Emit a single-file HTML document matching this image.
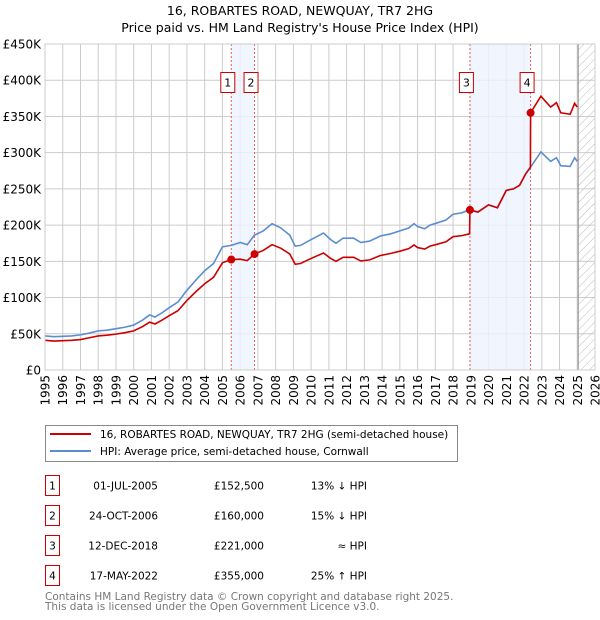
<!DOCTYPE html>
<html><head><meta charset="utf-8"><style>
body{margin:0;background:#fff;}
svg{display:block;font-family:"DejaVu Sans","Liberation Sans",sans-serif;}
</style></head><body>
<svg id="chart" width="600" height="620" viewBox="0 0 600 620" xmlns="http://www.w3.org/2000/svg">
<defs>
<pattern id="hatch" width="6" height="6" patternUnits="userSpaceOnUse" patternTransform="rotate(45)">
<line x1="0" y1="0" x2="0" y2="6" stroke="#bbb" stroke-width="1"/>
</pattern>
</defs>
<text x="300" y="15" text-anchor="middle" font-size="12.5" fill="#000">16, ROBARTES ROAD, NEWQUAY, TR7 2HG</text>
<text x="300" y="32" text-anchor="middle" font-size="12.5" fill="#000">Price paid vs. HM Land Registry's House Price Index (HPI)</text>
<g id="grid"></g>
<g id="bands"></g>
<g id="lines"></g>
<g id="marks"></g>
<g id="axes"></g>

<g>
<rect x="45.5" y="425.5" width="412" height="36" fill="#fff" stroke="#888"/>
<line x1="50" y1="434" x2="91" y2="434" stroke="#cc0000" stroke-width="2"/>
<text x="100" y="438" font-size="10.5">16, ROBARTES ROAD, NEWQUAY, TR7 2HG (semi-detached house)</text>
<line x1="50" y1="451" x2="91" y2="451" stroke="#5b8dd0" stroke-width="2"/>
<text x="100" y="455" font-size="10.5">HPI: Average price, semi-detached house, Cornwall</text>
</g>
<g id="table" font-size="10.5"></g>
<text x="45" y="600" font-size="10.5" fill="#777">Contains HM Land Registry data © Crown copyright and database right 2025.</text>
<text x="45" y="610" font-size="10.5" fill="#777">This data is licensed under the Open Government Licence v3.0.</text>
</svg>
<script>
const yTicks = [0,50,100,150,200,250,300,350,400,450];
const yTickLabels = ["£0","£50K","£100K","£150K","£200K","£250K","£300K","£350K","£400K","£450K"];
const xYears = [1995,1996,1997,1998,1999,2000,2001,2002,2003,2004,2005,2006,2007,2008,2009,2010,2011,2012,2013,2014,2015,2016,2017,2018,2019,2020,2021,2022,2023,2024,2025,2026];
const hpiDates = [1995.0,1995.5,1996.0,1996.5,1997.0,1997.5,1998.0,1998.5,1999.0,1999.5,2000.0,2000.5,2000.9,2001.2,2001.6,2002.0,2002.5,2003.0,2003.5,2004.0,2004.5,2005.0,2005.5,2006.0,2006.4,2006.8,2007.3,2007.8,2008.3,2008.8,2009.1,2009.4,2010.0,2010.7,2011.1,2011.4,2011.8,2012.4,2012.8,2013.3,2013.9,2014.5,2015.0,2015.5,2015.8,2016.0,2016.4,2016.7,2017.1,2017.6,2018.0,2018.5,2018.9,2019.4,2020.0,2020.5,2021.0,2021.4,2021.75,2022.1,2022.4,2022.95,2023.5,2023.83,2024.07,2024.6,2024.85,2025.0];
const hpiValues = [47,46,46.5,47,48.5,51,54,55,57,59,62,69,76,73,79,86,94,110,124,137,147,170,172,176,173,186,192,202,196,186,171,172,180,189,180,175,182,182,176,178,185,188,192,196,202,198,195,200,203,207,215,217,221,218,228,224,248,250,255,271,281,301,288,293,282,281,293,288];
const priceDates = [1995.0,1995.5,1996.0,1996.5,1997.0,1997.5,1998.0,1998.5,1999.0,1999.5,2000.0,2000.5,2000.9,2001.2,2001.6,2002.0,2002.5,2003.0,2003.5,2004.0,2004.5,2005.0,2005.5,2006.0,2006.4,2006.8,2007.3,2007.8,2008.3,2008.8,2009.1,2009.4,2010.0,2010.7,2011.1,2011.4,2011.8,2012.4,2012.8,2013.3,2013.9,2014.5,2015.0,2015.5,2015.8,2016.0,2016.4,2016.7,2017.1,2017.6,2018.0,2018.5,2018.93,2018.95,2019.4,2020.0,2020.5,2021.0,2021.4,2021.75,2022.1,2022.36,2022.37,2022.95,2023.5,2023.83,2024.07,2024.6,2024.85,2025.0];
const priceValues = [41,40,40.5,41,42,44.5,47,48,49.5,51.5,54,60,66,63.5,69,75,82,96,108,119,128,148,152.5,153,151,160,165,173,168,160,146,147,154,161.5,154,150,155.5,155.5,150.5,152,158,161,164,167.5,172.5,169,167,171,173.5,177,184,185.5,188,221,218,228,224,248,250,255,271,280,355,378,363,369,355,353,368,363];
const saleDates = [2005.5,2006.81,2018.95,2022.37];
const salePrices = [152.5,160,221,355];
const saleLabels = ["1","2","3","4"];
const saleDateText = ["01-JUL-2005","24-OCT-2006","12-DEC-2018","17-MAY-2022"];
const salePriceText = ["£152,500","£160,000","£221,000","£355,000"];
const saleHpiText = ["13% ↓ HPI","15% ↓ HPI","≈ HPI","25% ↑ HPI"];
const projectionStart = 2025.05;

const NS="http://www.w3.org/2000/svg";
const L=45,R=595,T=44,B=370;
const x=v=>L+(v-1995)/(2026-1995)*(R-L);
const y=v=>B-v/450*(B-T);
function mk(tag,attrs,parent){const e=document.createElementNS(NS,tag);for(const k in attrs)e.setAttribute(k,attrs[k]);parent.appendChild(e);return e;}
const grid=document.getElementById('grid'),bands=document.getElementById('bands'),lines=document.getElementById('lines'),marks=document.getElementById('marks'),axes=document.getElementById('axes'),table=document.getElementById('table');

yTicks.forEach((t,i)=>{
  const g=mk('line',{x1:L,x2:R,y1:y(t),y2:y(t),stroke:'#cccccc','stroke-width':1},grid);
  
  
  const tx=mk('text',{x:L-4,y:y(t)+4.5,'text-anchor':'end','font-size':12},axes);
  tx.textContent=yTickLabels[i];
  
  
});
xYears.forEach(yr=>{
  const g=mk('line',{x1:x(yr),x2:x(yr),y1:T,y2:B,stroke:'#cccccc','stroke-width':1},grid);
  
  
  const tx=mk('text',{x:0,y:0,'text-anchor':'end','font-size':12,transform:`translate(${x(yr)+4.5},${B+5}) rotate(-90)`},axes);
  tx.textContent=yr;
  
  
});
const h=mk('rect',{x:x(projectionStart),y:T,width:R-x(projectionStart),height:B-T,fill:'url(#hatch)'},bands);


const hl=mk('line',{x1:x(projectionStart),x2:x(projectionStart),y1:T,y2:B,stroke:'#888','stroke-width':1},bands);


[[0,1],[2,3]].forEach(p=>{
  const r=mk('rect',{x:x(saleDates[p[0]]),y:T,width:x(saleDates[p[1]])-x(saleDates[p[0]]),height:B-T,fill:'#eef3fc',opacity:0.8},bands);
  
  
});
saleDates.forEach((d,i)=>{
  const l=mk('line',{x1:x(d),x2:x(d),y1:T,y2:B,stroke:'#e06060','stroke-width':1,'stroke-dasharray':'2,2'},bands);
  
  
  const bx=mk('rect',{x:x(d)-10.5,y:72.5,width:14,height:20,fill:'#fff',stroke:'#cc0000'},marks);
  
  
  const t=mk('text',{x:x(d)-3.5,y:86.5,'text-anchor':'middle','font-size':11},marks);
  t.textContent=saleLabels[i];
  
  
});
const fr=mk('rect',{x:L,y:T,width:R-L,height:B-T,fill:'none',stroke:'#cccccc'},axes);



const hp=mk('polyline',{points:hpiDates.map((d,i)=>x(d)+','+y(hpiValues[i])).join(' '),fill:'none',stroke:'#5b8dd0','stroke-width':1.6},lines);


const pp=mk('polyline',{points:priceDates.map((d,i)=>x(d)+','+y(priceValues[i])).join(' '),fill:'none',stroke:'#cc0000','stroke-width':1.6},lines);


saleDates.forEach((d,i)=>{
  const c=mk('circle',{cx:x(d),cy:y(salePrices[i]),r:4,fill:'#cc0000'},marks);
  
  
});
saleDates.forEach((d,i)=>{
  const ry=475+i*30;
  const b=mk('rect',{x:45.5,y:ry+0.5,width:14,height:20,fill:'#fff',stroke:'#cc0000'},table);
  
  
  const n=mk('text',{x:52.5,y:ry+14.5,'text-anchor':'middle'},table);
  n.textContent=saleLabels[i];
  
  
  const dt=mk('text',{x:158,y:ry+14.5,'text-anchor':'end'},table);
  dt.textContent=saleDateText[i];
  
  
  const pr=mk('text',{x:264,y:ry+14.5,'text-anchor':'end'},table);
  pr.textContent=salePriceText[i];
  
  
  const hc=mk('text',{x:367,y:ry+14.5,'text-anchor':'end'},table);
  hc.textContent=saleHpiText[i];
  
  
});
</script>
</body></html>
